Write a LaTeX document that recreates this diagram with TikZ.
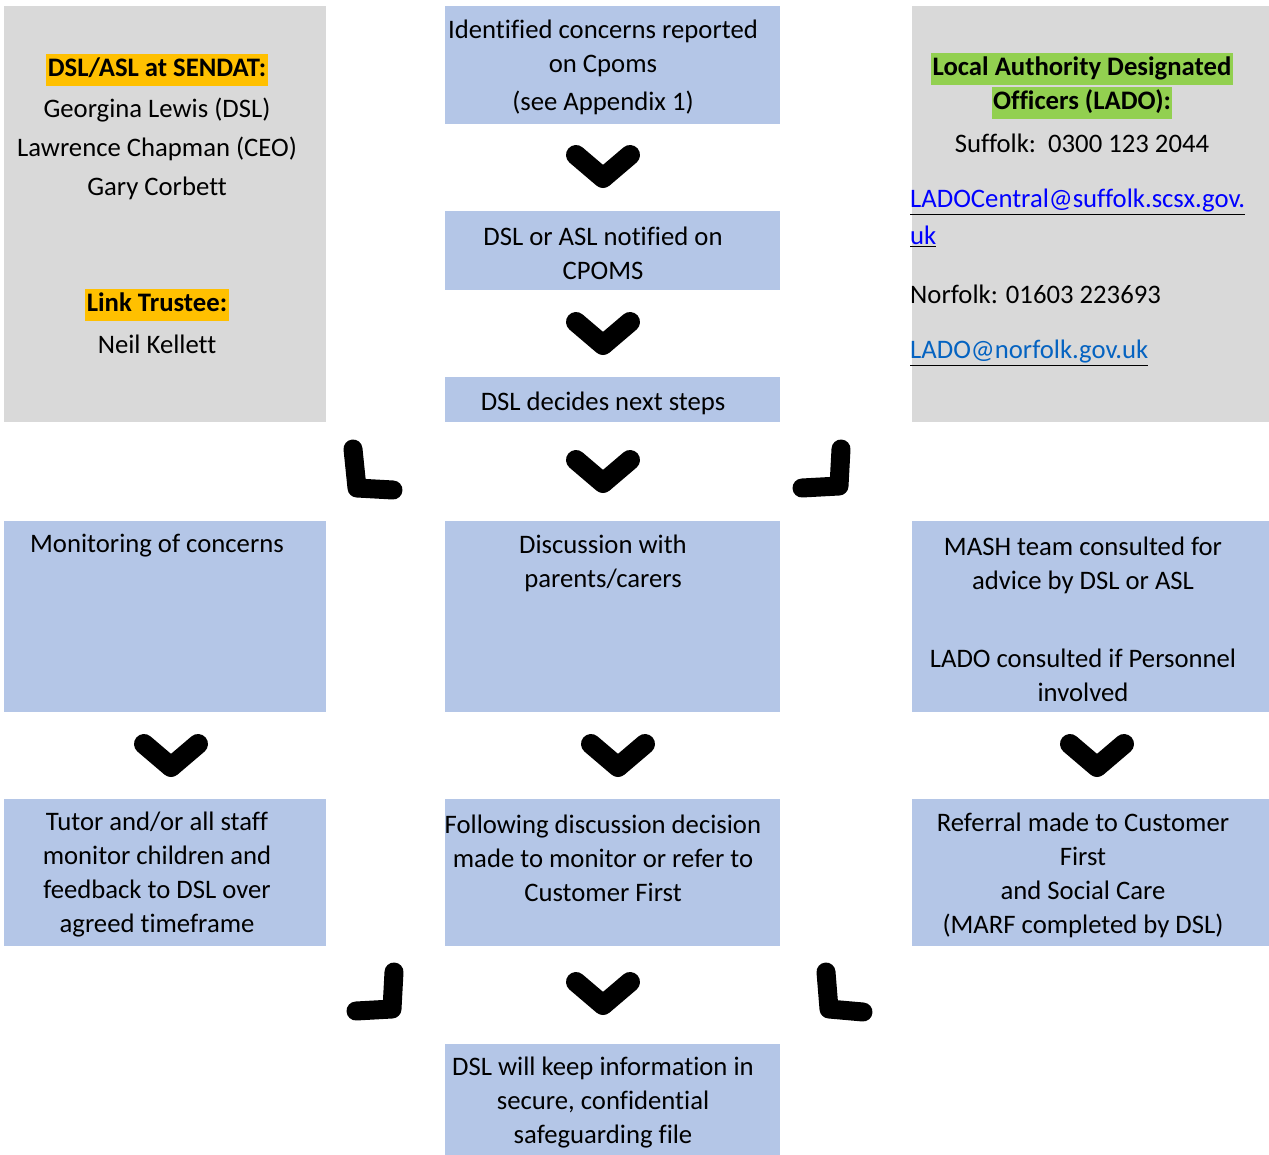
\documentclass[tikz,border=0pt]{standalone}
\usepackage{fontspec}
\setmainfont{Carlito}[Ligatures={NoCommon}]
\usetikzlibrary{calc}
\definecolor{boxblue}{HTML}{B4C6E7}
\definecolor{boxgray}{HTML}{D9D9D9}
\definecolor{hlorange}{HTML}{FFC000}
\definecolor{hlgreen}{HTML}{92D050}
\definecolor{linkblue}{HTML}{0000FF}
\definecolor{linkblue2}{HTML}{0563C1}
\newcommand{\bodyfont}{\fontsize{26.7}{34}\selectfont}
\tikzset{
  bluebox/.style={fill=boxblue, draw=none},
  graybox/.style={fill=boxgray, draw=none},
  txt/.style={align=center, inner sep=0pt, font=\bodyfont},
  txtl/.style={align=left, inner sep=0pt, anchor=west, font=\bodyfont},
  hl/.style={inner sep=1.5pt, text height=20.5pt, text depth=8pt, font=\bodyfont\bfseries},
  chev/.style={line width=20pt, line cap=round, line join=round},
  corner/.style={line width=19pt, line cap=round, line join=round},
}
\newcommand{\ulink}[2]{\underline{\textcolor{#1}{#2}}}
\begin{document}
\begin{tikzpicture}[x=1pt,y=-1pt]
\useasboundingbox (0,0) rectangle (1269,1155);
% boxes
\path[graybox] (4,6) rectangle (326,422);
\path[graybox] (912,6) rectangle (1269,422);
\path[bluebox] (445,6) rectangle (780,124);
\path[bluebox] (445,211) rectangle (780,290);
\path[bluebox] (445,377) rectangle (780,422);
\path[bluebox] (4,521) rectangle (326,712);
\path[bluebox] (445,521) rectangle (780,712);
\path[bluebox] (912,521) rectangle (1269,712);
\path[bluebox] (4,799) rectangle (326,946);
\path[bluebox] (445,799) rectangle (780,946);
\path[bluebox] (912,799) rectangle (1269,946);
\path[bluebox] (445,1044) rectangle (780,1155);

\begin{scope}[yshift=-2pt]
% left gray text
\node[hl, fill=hlorange] (dslh) at (157,68) {DSL/ASL at SENDAT:};
\node[txt, font=\fontsize{26.7}{39.3}\selectfont] (dsln) at (157,147) {Georgina Lewis (DSL)\\Lawrence Chapman (CEO)\\Gary Corbett};
\node[hl, fill=hlorange] (lth) at (157,303) {Link Trustee:};
\node[txt] (ltn) at (157,342) {Neil Kellett};

% right gray text
\node[hl, fill=hlgreen] (lado1) at (1082,67) {Local Authority Designated};
\node[hl, fill=hlgreen] (lado2) at (1082,101) {Officers (LADO):};
\node[txt] (suff) at (1082,141) {Suffolk:\ \ 0300 123 2044};
\node[txtl] (sl1) at (910,200) {\ulink{linkblue}{LADOCentral@suffolk.scsx.gov.}};
\node[txtl] (sl2) at (910,234) {\ulink{linkblue}{uk}};
\node[txtl] (norf) at (910,292) {Norfolk: 01603 223693};
\node[txtl] (nl) at (910,351) {\ulink{linkblue2}{LADO@norfolk.gov.uk}};

% center texts
\node[txt] (t1) at (603,65) {Identified concerns reported\\on Cpoms\\[4pt](see Appendix 1)};
\node[txt] (t2) at (603,251) {DSL or ASL notified on\\CPOMS};
\node[txt] (t3) at (603,401) {DSL decides next steps};
\node[txt] (t4) at (157,544) {Monitoring of concerns};
\node[txt] (t5) at (603,561) {Discussion with\\parents/carers};
\node[txt] (t6) at (1083,617) {MASH team consulted for\\advice by DSL or ASL\\[44pt]LADO consulted if Personnel\\involved};
\node[txt] (t7) at (157,873) {Tutor and/or all staff\\monitor children and\\feedback to DSL over\\agreed timeframe};
\node[txt] (t8) at (603,856) {Following discussion decision\\made to monitor or refer to\\Customer First};
\node[txt] (t9) at (1083,873) {Referral made to Customer\\First\\and Social Care\\(MARF completed by DSL)};
\node[txt] (t10) at (603,1101) {DSL will keep information in\\secure, confidential\\safeguarding file};
\end{scope}

% chevrons
\foreach \x/\y in {603/178, 603/345, 603/483, 171/767, 618/767, 1097/767, 603/1005}{
  \draw[chev] (\x-27,\y-23) -- (\x,\y) -- (\x+27,\y-23);
}
% corner arrows
\draw[corner] (353,449) -- (357,488) -- (393,490);
\draw[corner] (841,449) -- (839,486) -- (802,488);
\draw[corner] (394,972) -- (392,1009) -- (356,1011);
\draw[corner] (826,972) -- (829,1009) -- (863,1012);
\end{tikzpicture}
\end{document}
